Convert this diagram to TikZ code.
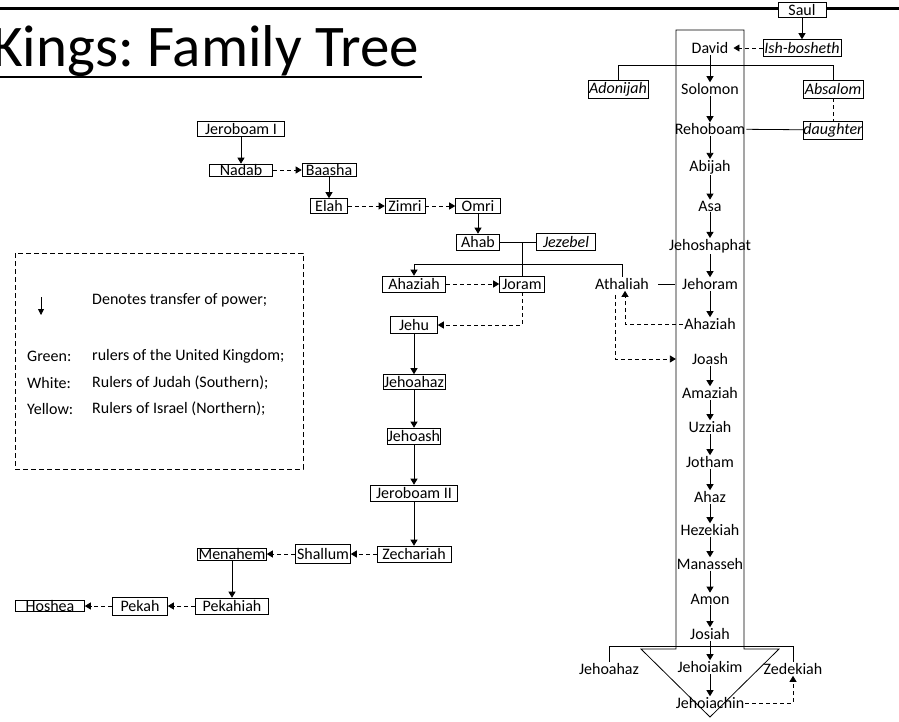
\documentclass[tikz,border=0pt]{standalone}
\usepackage{fontspec}
\setmainfont{Carlito}
\usepackage{tikz}
\usetikzlibrary{arrows.meta}

\tikzset{
  ruler/.style={inner sep=1pt, font=\fontsize{16}{18}\selectfont},
  king/.style={ruler, draw, line width=0.6pt, inner sep=0pt, minimum height=16pt},
  kinbox/.style={king, font=\fontsize{16}{18}\selectfont\itshape},
  note/.style={anchor=west, inner sep=0pt, font=\fontsize{16}{18}\selectfont},
  kin/.style={line width=0.8pt},
  pass/.style={kin, -{Triangle[width=7pt,length=6pt]}},
  seize/.style={pass, dash pattern=on 4pt off 3pt},
}

\begin{document}
\frenchspacing
\begin{tikzpicture}[x=1pt, y=-1pt]
\useasboundingbox (0,0) rectangle (899,721);

% title
\draw[line width=3pt] (0,8) -- (899,8);
\node[anchor=base west, inner sep=0pt, font=\fontsize{59}{62}\selectfont] (title) at (-8,66) {Kings: Family Tree};
\draw[line width=2.5pt] (0,77) -- (422,77);

% the kingdom arrow
\draw[line width=0.8pt] (676,30) -- (744,30) -- (744,649) -- (779,649) -- (710,717) -- (641,649) -- (676,649) -- cycle;

% united kingdom and judah
\node[king, fill=white, minimum width=48pt, minimum height=15pt] (saul) at (802,10) {Saul};
\node[kinbox, minimum width=78pt, minimum height=17pt] (ishbosheth) at (802,48) {Ish-bosheth};
\node[ruler] (david) at (710,48) {David};
\node[kinbox, minimum width=60pt, minimum height=18pt] (adonijah) at (618,89) {Adonijah};
\node[kinbox, minimum width=60pt, minimum height=18pt] (absalom) at (833,89) {Absalom};
\node[kinbox, minimum width=59pt, minimum height=18pt] (daughter) at (833,130) {daughter};
\node[ruler] (solomon) at (710,89) {Solomon};
\node[ruler] (rehoboam) at (710,129) {Rehoboam};
\node[ruler] (abijah) at (710,167) {Abijah};
\node[ruler] (asa) at (710,206) {Asa};
\node[ruler] (jehoshaphat) at (710,246) {Jehoshaphat};
\node[ruler] (jehoram) at (710,284) {Jehoram};
\node[ruler] (ahaziahJ) at (710,324) {Ahaziah};
\node[ruler] (joash) at (710,359) {Joash};
\node[ruler] (amaziah) at (710,393) {Amaziah};
\node[ruler] (uzziah) at (710,427) {Uzziah};
\node[ruler] (jotham) at (710,462) {Jotham};
\node[ruler] (ahaz) at (710,497) {Ahaz};
\node[ruler] (hezekiah) at (710,530) {Hezekiah};
\node[ruler] (manasseh) at (710,564) {Manasseh};
\node[ruler] (amon) at (710,599) {Amon};
\node[ruler] (josiah) at (710,634) {Josiah};
\node[ruler] (jehoiakim) at (710,667) {Jehoiakim};
\node[ruler] (jehoiachin) at (710,703) {Jehoiachin};
\node[ruler] (jehoahazJ) at (609,669) {Jehoahaz};
\node[ruler] (zedekiah) at (793,669) {Zedekiah};
\node[ruler] (athaliah) at (622,284) {Athaliah};

\draw[pass] (saul) -- (ishbosheth);
\draw[seize, shorten >=4pt] (ishbosheth) -- (david);
\draw[kin] (adonijah.north) -- ++(0,-14) -| (absalom.north);
\draw[kin, dash pattern=on 4pt off 3pt] (absalom) -- (daughter);
\draw[kin] (rehoboam) -- (daughter);
\draw[pass] (david) -- (solomon);
\draw[pass] (solomon) -- (rehoboam);
\draw[pass] (rehoboam) -- (abijah);
\draw[pass] (abijah) -- (asa);
\draw[pass] (asa) -- (jehoshaphat);
\draw[pass] (jehoshaphat) -- (jehoram);
\draw[pass] (jehoram) -- (ahaziahJ);
\draw[pass] (joash) -- (amaziah);
\draw[pass] (amaziah) -- (uzziah);
\draw[pass] (uzziah) -- (jotham);
\draw[pass] (jotham) -- (ahaz);
\draw[pass] (ahaz) -- (hezekiah);
\draw[pass] (hezekiah) -- (manasseh);
\draw[pass] (manasseh) -- (amon);
\draw[pass] (amon) -- (josiah);
\draw[pass] (josiah) -- (jehoiakim);
\draw[pass] (jehoiakim) -- (jehoiachin);
\draw[kin] (jehoahazJ.north) -- ++(0,-16) -| (zedekiah.north);
\draw[seize] (jehoiachin.east) -| (zedekiah.south);
\draw[kin, shorten <=8pt, shorten >=6pt] (athaliah) -- (jehoram);
\draw[seize] (ahaziahJ.west) -| ([xshift=3pt]athaliah.south);
\draw[seize, shorten <=4pt, shorten >=15pt] ([xshift=-7pt]athaliah.south) |- (joash.west);

% israel
\node[king, minimum width=87pt, minimum height=15pt] (jeroboamI) at (241,129) {Jeroboam I};
\node[king, minimum width=63pt, minimum height=12pt] (nadab) at (241,170) {Nadab};
\node[king, minimum width=54pt, minimum height=13pt] (baasha) at (329,170) {Baasha};
\node[king, minimum width=37pt, minimum height=15pt] (elah) at (329,206) {Elah};
\node[king, minimum width=40pt, minimum height=15pt] (zimri) at (405,206) {Zimri};
\node[king, minimum width=45pt, minimum height=15pt] (omri) at (478,206) {Omri};
\node[king, minimum width=43pt] (ahab) at (478,242) {Ahab};
\node[kinbox, minimum width=59pt, minimum height=17pt] (jezebel) at (566,242) {Jezebel};
\node[king, minimum width=63pt] (ahaziahI) at (414,284) {Ahaziah};
\node[king, minimum width=45pt] (joram) at (522,284) {Joram};
\node[king, minimum width=47pt, minimum height=17pt] (jehu) at (414,325) {Jehu};
\node[king, minimum width=62pt, minimum height=15pt] (jehoahazI) at (414,382) {Jehoahaz};
\node[king, minimum width=53pt] (jehoash) at (414,436) {Jehoash};
\node[king, minimum width=87pt] (jeroboamII) at (414,493) {Jeroboam II};
\node[king, minimum width=74pt] (zechariah) at (414,554) {Zechariah};
\node[king, minimum width=55pt, minimum height=19pt] (shallum) at (323,554) {Shallum};
\node[king, minimum width=69pt, minimum height=12pt] (menahem) at (232,554) {Menahem};
\node[king, minimum width=73pt] (pekahiah) at (232,606) {Pekahiah};
\node[king, minimum width=55pt, minimum height=18pt] (pekah) at (140,606) {Pekah};
\node[king, minimum width=69pt, minimum height=11pt] (hoshea) at (50,606) {Hoshea};
\coordinate (ahabkids) at (522,264);

\draw[pass] (jeroboamI) -- (nadab);
\draw[seize] (nadab) -- (baasha);
\draw[pass] (baasha) -- (elah);
\draw[seize] (elah) -- (zimri);
\draw[seize] (zimri) -- (omri);
\draw[pass] (omri) -- (ahab);
\draw[kin] (ahab) -- (jezebel);
\draw[kin] (ahab.east -| joram.north) -- (joram.north);
\draw[pass] (ahabkids) -| (ahaziahI.north);
\draw[kin] (ahabkids) -| (athaliah.north);
\draw[seize] (ahaziahI) -- (joram);
\draw[seize] (joram.south) |- (jehu.east);
\draw[pass] (jehu) -- (jehoahazI);
\draw[pass] (jehoahazI) -- (jehoash);
\draw[pass] (jehoash) -- (jeroboamII);
\draw[pass] (jeroboamII) -- (zechariah);
\draw[seize] (zechariah) -- (shallum);
\draw[seize] (shallum) -- (menahem);
\draw[pass] (menahem) -- (pekahiah);
\draw[seize] (pekahiah) -- (pekah);
\draw[seize] (pekah) -- (hoshea);

% legend
\draw[line width=0.6pt, dash pattern=on 5pt off 3pt] (15,253) rectangle (303,469);
\coordinate (keytop) at (41,297);
\coordinate (keyend) at (41,315);
\draw[kin, -{Triangle[width=6pt,length=6pt]}] (keytop) -- (keyend);
\node[note] (keypass) at (92,300) {Denotes transfer of power;};
\node[note] (green) at (27,356) {Green:};
\node[note] (greentext) at (92,356) {rulers of the United Kingdom;};
\node[note] (white) at (27,383) {White:};
\node[note] (whitetext) at (92,383) {Rulers of Judah (Southern);};
\node[note] (yellow) at (27,409) {Yellow:};
\node[note] (yellowtext) at (92,409) {Rulers of Israel (Northern);};
\end{tikzpicture}
\end{document}
